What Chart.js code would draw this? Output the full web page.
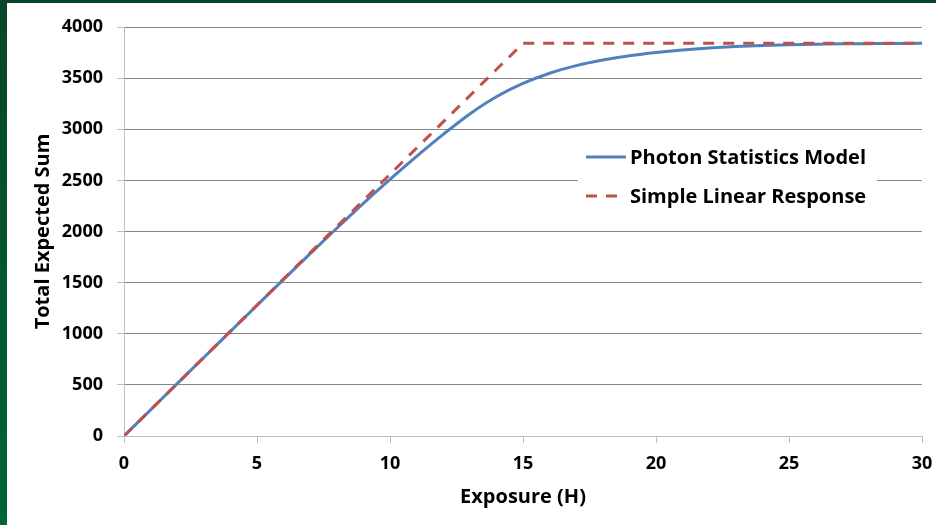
<!DOCTYPE html>
<html>
<head>
<meta charset="utf-8">
<script src="https://cdn.jsdelivr.net/npm/chart.js@4.4.0/dist/chart.umd.min.js"></script>
<style>
    html, body { margin: 0; padding: 0; }
    body {
        width: 936px;
        height: 525px;
        overflow: hidden;
        background: linear-gradient(#07462a, #006633);
        position: relative;
    }
    #frame {
        position: absolute;
        left: 7px;
        top: 3px;
        width: 929px;
        height: 522px;
        background: #ffffff;
    }
</style>
</head>
<body>
<div id="frame"><canvas id="exposure-chart" width="929" height="522"></canvas></div>
<script>
// values
const exposure = [0, 1, 2, 3, 4, 5, 6, 7, 8, 9, 10, 11, 12, 13, 14, 15,
    16, 17, 18, 19, 20, 21, 22, 23, 24, 25, 26, 27, 28, 29, 30];
const photonSum = [0, 256, 512, 768, 1023, 1278, 1532, 1784, 2032, 2275, 2510, 2735, 2950, 3150, 3318, 3448,
    3548, 3622, 3677, 3719, 3751, 3776, 3795, 3809, 3819, 3826, 3831, 3835, 3837, 3839, 3840];
const linearExposure = [0, 15, 30];
const linearSum = [0, 3840, 3840];
const yTicks = [0, 500, 1000, 1500, 2000, 2500, 3000, 3500, 4000];
const xTicks = [0, 5, 10, 15, 20, 25, 30];

const fontFamily = "'Open Sans', 'Liberation Sans', sans-serif";
const blue = "#4f81bd";
const red = "#c0504d";
const axisGray = "#bfbfbf";
const gridGray = "#868686";

function toPoints(xs, ys) {
    return xs.map((x, i) => ({ x: x, y: ys[i] }));
}

// legend drawn inside the plot, over a white patch like the original
const insideLegend = {
    id: "insideLegend",
    afterDatasetsDraw(chart) {
        const ctx = chart.ctx;
        ctx.save();
        ctx.fillStyle = "#ffffff";
        ctx.fillRect(571, 142, 299, 70);
        ctx.font = "bold 20px " + fontFamily;
        ctx.textBaseline = "middle";
        ctx.fillStyle = "#000000";
        chart.data.datasets.forEach((ds, i) => {
            const y = 154 + i * 39;
            ctx.strokeStyle = ds.borderColor;
            ctx.lineWidth = 3;
            ctx.setLineDash(ds.borderDash || []);
            ctx.beginPath();
            ctx.moveTo(579, y);
            ctx.lineTo(ds.borderDash ? 611 : 619, y);
            ctx.stroke();
            ctx.fillText(ds.label, 623, y + 1);
        });
        ctx.restore();
    },
};

const ctx = document.getElementById("exposure-chart").getContext("2d");

const chart = new Chart(ctx, {
    type: "scatter",
    data: {
        datasets: [
            {
                label: "Photon Statistics Model",
                data: toPoints(exposure, photonSum),
                showLine: true,
                borderColor: blue,
                backgroundColor: blue,
                borderWidth: 3,
                pointRadius: 0,
                cubicInterpolationMode: "monotone",
                order: 2,
            },
            {
                label: "Simple Linear Response",
                data: toPoints(linearExposure, linearSum),
                showLine: true,
                borderColor: red,
                backgroundColor: red,
                borderWidth: 3,
                borderDash: [11, 9],
                pointRadius: 0,
                order: 1,
            },
        ],
    },
    options: {
        responsive: false,
        animation: false,
        layout: { padding: { top: 24, right: 14, left: 0, bottom: 0 } },
        plugins: {
            legend: { display: false },
            tooltip: { enabled: false },
        },
        scales: {
            x: {
                type: "linear",
                min: 0,
                max: 30,
                afterBuildTicks: (scale) => {
                    scale.ticks = xTicks.map((v) => ({ value: v }));
                },
                afterFit: (scale) => {
                    scale.height = 89;
                    scale.paddingLeft = 0;
                    scale.paddingRight = 0;
                },
                grid: {
                    drawOnChartArea: false,
                    drawTicks: true,
                    tickLength: 7,
                    tickColor: axisGray,
                    color: axisGray,
                },
                border: { color: axisGray, width: 1 },
                ticks: {
                    color: "#000000",
                    padding: 10,
                    maxRotation: 0,
                    callback: (v) => String(v),
                    font: { family: fontFamily, size: 18, weight: "bold" },
                },
                title: {
                    display: true,
                    text: "Exposure (H)",
                    color: "#000000",
                    padding: { top: 0, bottom: 16 },
                    font: { family: fontFamily, size: 20, weight: "bold" },
                },
            },
            y: {
                type: "linear",
                min: 0,
                max: 4000,
                afterBuildTicks: (scale) => {
                    scale.ticks = yTicks.map((v) => ({ value: v }));
                },
                afterFit: (scale) => {
                    scale.width = 117;
                    scale.paddingTop = 0;
                    scale.paddingBottom = 0;
                },
                grid: {
                    drawTicks: true,
                    tickLength: 7,
                    tickColor: axisGray,
                    color: (c) => (c.tick && c.tick.value === 0 ? axisGray : gridGray),
                },
                border: { color: axisGray, width: 1 },
                ticks: {
                    color: "#000000",
                    padding: 14,
                    callback: (v) => String(v),
                    font: { family: fontFamily, size: 18, weight: "bold" },
                },
                title: {
                    display: true,
                    text: "Total Expected Sum",
                    color: "#000000",
                    padding: { top: 24, bottom: 0 },
                    font: { family: fontFamily, size: 20, weight: "bold" },
                },
            },
        },
    },
    plugins: [insideLegend],
});
</script>
</body>
</html>
